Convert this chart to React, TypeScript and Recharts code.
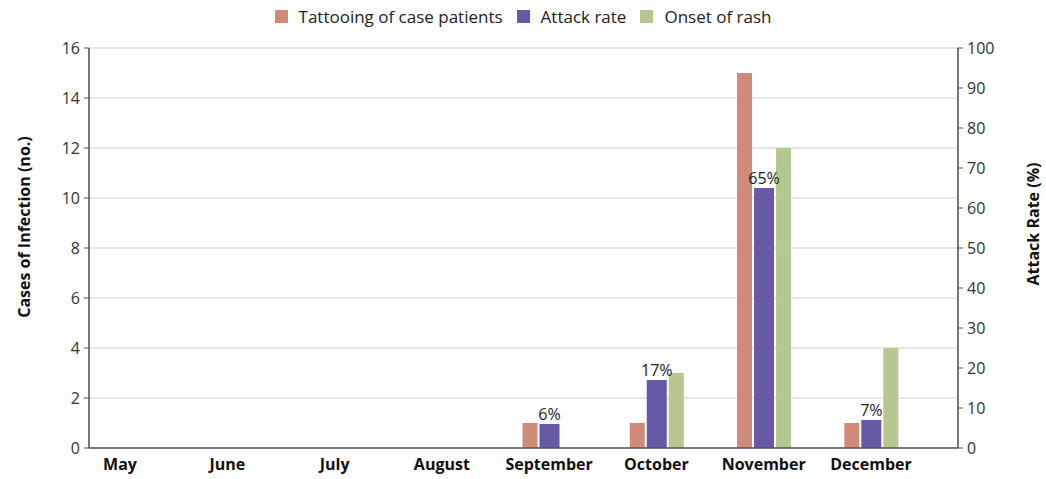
import { Bar, BarChart, CartesianGrid, LabelList, Legend, XAxis, YAxis } from "recharts";

const months = ["May", "June", "July", "August", "September", "October", "November", "December"];
const tattooing = [null, null, null, null, 1, 1, 15, 1];
const attackRate = [null, null, null, null, 6, 17, 65, 7];
const onsetOfRash = [null, null, null, null, null, 3, 12, 4];

const leftTicks = [0, 2, 4, 6, 8, 10, 12, 14, 16];
const rightTicks = [0, 10, 20, 30, 40, 50, 60, 70, 80, 90, 100];

const data = months.map((month, i) => ({
    month,
    tattooing: tattooing[i],
    attackRate: attackRate[i],
    onsetOfRash: onsetOfRash[i],
}));

const FONT = "'Open Sans', Lato, sans-serif";
const AXIS = "#555";

const legendItems = [
    { key: "tattooing", label: "Tattooing of case patients", color: "#D08A78" },
    { key: "attackRate", label: "Attack rate", color: "#6659A6" },
    { key: "onsetOfRash", label: "Onset of rash", color: "#B6C78F" },
];

const LegendContent = () => (
    <div style={{ display: "flex", justifyContent: "center", alignItems: "center", fontFamily: FONT, fontSize: 17, color: "#222" }}>
        {legendItems.map((item, i) => (
            <div key={item.key} style={{ display: "flex", alignItems: "center", marginRight: i < legendItems.length - 1 ? 14 : 0 }}>
                <span style={{ width: 13, height: 13, background: item.color, marginRight: 11, display: "inline-block" }} />
                <span>{item.label}</span>
            </div>
        ))}
    </div>
);

const axisTitle = (text: string, dx: number, dy: number) => (p: any) => {
    const vb = p.viewBox;
    const cx = vb.x + dx;
    const cy = vb.y + vb.height / 2 + dy;
    return (
        <text
            x={cx}
            y={cy}
            transform={`rotate(-90, ${cx}, ${cy})`}
            textAnchor="middle"
            dominantBaseline="central"
            fontSize={16}
            fontWeight={700}
            fill="#111"
            fontFamily={FONT}
        >
            {text}
        </text>
    );
};

export default function App() {
    return (
        <div style={{ position: "absolute", left: 0, top: 0, width: 1046, height: 479, background: "#fff", fontFamily: FONT }}>
            <BarChart
                width={1046}
                height={479}
                data={data}
                margin={{ top: 48, right: 28, left: 29, bottom: 1 }}
                barGap={2}
                barCategoryGap={0}
            >
                <CartesianGrid yAxisId="left" vertical={false} stroke="#cfcfcf" strokeWidth={1.2} />
                <XAxis
                    dataKey="month"
                    height={30}
                    padding={{ left: -22.6, right: 33.4 }}
                    axisLine={{ stroke: AXIS, strokeWidth: 1.6 }}
                    tickLine={false}
                    tickMargin={5}
                    interval={0}
                    tick={{ fill: "#111", fontSize: 16, fontWeight: 700, fontFamily: FONT }}
                />
                <YAxis
                    yAxisId="left"
                    width={60}
                    domain={[0, 16]}
                    ticks={leftTicks}
                    interval={0}
                    axisLine={{ stroke: AXIS, strokeWidth: 1.6 }}
                    tickLine={{ stroke: AXIS }}
                    tickSize={5}
                    tickMargin={4}
                    tick={{ fill: "#333", fontSize: 16, fontFamily: FONT }}
                    label={{ content: axisTitle("Cases of Infection (no.)", -5, -21) }}
                />
                <YAxis
                    yAxisId="right"
                    orientation="right"
                    width={60}
                    domain={[0, 100]}
                    ticks={rightTicks}
                    interval={0}
                    axisLine={{ stroke: AXIS, strokeWidth: 1.6 }}
                    tickLine={{ stroke: AXIS }}
                    tickSize={5}
                    tickMargin={4}
                    tick={{ fill: "#333", fontSize: 16, fontFamily: FONT }}
                    label={{ content: axisTitle("Attack Rate (%)", 75, -24) }}
                />
                <Legend
                    verticalAlign="middle"
                    align="center"
                    layout="horizontal"
                    content={<LegendContent />}
                    wrapperStyle={{ top: 5, left: 0, width: 1046 }}
                />
                <Bar yAxisId="left" dataKey="tattooing" fill="#D08A78" barSize={15} isAnimationActive={false} />
                <Bar yAxisId="right" dataKey="attackRate" fill="#6659A6" barSize={20} isAnimationActive={false}>
                    <LabelList
                        dataKey="attackRate"
                        position="top"
                        offset={4}
                        formatter={(v: any) => (v == null ? "" : `${v}%`)}
                        style={{ fill: "#222", fontSize: 16, fontFamily: FONT }}
                    />
                </Bar>
                <Bar yAxisId="left" dataKey="onsetOfRash" fill="#B6C78F" barSize={15} isAnimationActive={false} />
            </BarChart>
        </div>
    );
}
